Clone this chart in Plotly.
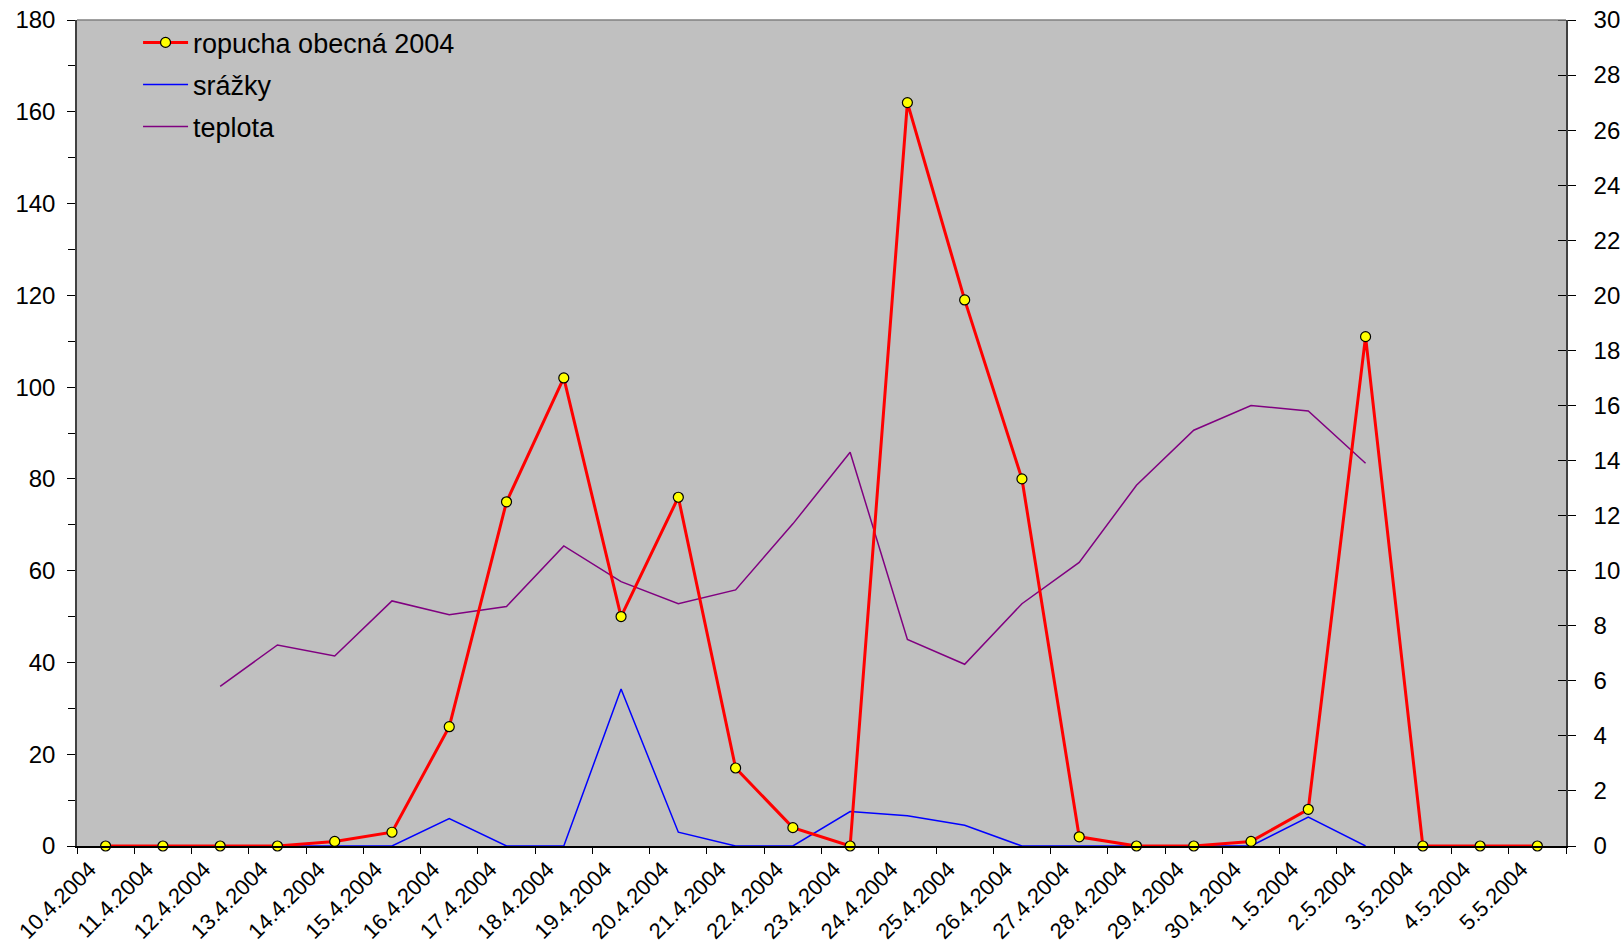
import plotly.graph_objects as go

dates = ["10.4.2004", "11.4.2004", "12.4.2004", "13.4.2004", "14.4.2004", "15.4.2004",
         "16.4.2004", "17.4.2004", "18.4.2004", "19.4.2004", "20.4.2004", "21.4.2004",
         "22.4.2004", "23.4.2004", "24.4.2004", "25.4.2004", "26.4.2004", "27.4.2004",
         "28.4.2004", "29.4.2004", "30.4.2004", "1.5.2004", "2.5.2004", "3.5.2004",
         "4.5.2004", "5.5.2004"]

ropucha = [0, 0, 0, 0, 1, 3, 26, 75, 102, 50, 76, 17, 4, 0, 162, 119, 80, 2, 0, 0, 1, 8, 111, 0, 0, 0]

srazky = [None, None, 0, 0, 0, 0, 1.0, 0, 0, 5.7, 0.5, 0, 0, 1.25, 1.1, 0.75, 0, 0, 0, 0, 0, 1.05, 0,
          None, None, None]

teplota = [None, None, 5.8, 7.3, 6.9, 8.9, 8.4, 8.7, 10.9, 9.6, 8.8, 9.3, 11.7, 14.3, 7.5, 6.6, 8.8,
           10.3, 13.1, 15.1, 16.0, 15.8, 13.9, None, None, None]

FONT = "Liberation Sans, Arial, sans-serif"

idx = list(range(len(dates)))
label_pos = [i - 0.28 for i in idx]

fig = go.Figure()
fig.add_trace(go.Scatter(
    x=idx, y=ropucha, name="ropucha obecná 2004", mode="lines+markers",
    line=dict(color="#FF0000", width=3),
    marker=dict(color="#FFFF00", size=10, line=dict(color="#000000", width=1.2)),
    yaxis="y2", cliponaxis=False, legendgroup="a"))
fig.add_trace(go.Scatter(
    x=idx, y=srazky, name="srážky", mode="lines",
    line=dict(color="#0000FF", width=1.5), yaxis="y", legendgroup="b"))
fig.add_trace(go.Scatter(
    x=idx, y=teplota, name="teplota", mode="lines",
    line=dict(color="#800080", width=1.5), yaxis="y", legendgroup="c"))

fig.update_layout(
    width=1623, height=948,
    margin=dict(l=77, r=57, t=20, b=102, autoexpand=False),
    paper_bgcolor="#FFFFFF", plot_bgcolor="#C0C0C0",
    font=dict(family=FONT, color="#000000"),
    showlegend=True,
    legend=dict(x=0.041, y=1.002, xanchor="left", yanchor="top",
                bgcolor="rgba(0,0,0,0)", font=dict(size=27, family=FONT),
                itemwidth=45, tracegroupgap=4, traceorder="grouped"),
    xaxis=dict(type="linear", range=[-0.5, len(dates) - 0.5],
               tickmode="array", tickvals=label_pos, ticktext=dates,
               ticks="", ticklen=0,
               minor=dict(ticks="outside", tick0=0.5, dtick=1, ticklen=6, tickcolor="#000000"),
               showline=True, linecolor="#000000", linewidth=1.5,
               tickangle=-45, tickfont=dict(size=22, family=FONT),
               showgrid=False, zeroline=False, automargin=False),
    yaxis=dict(side="right", range=[0, 30], dtick=2, tick0=0,
               ticks="outside", ticklen=8, tickcolor="#000000",
               minor=dict(ticks="inside", dtick=2, tick0=0, ticklen=8, tickcolor="#000000"),
               showline=True, linecolor="#404040", linewidth=1.5,
               tickfont=dict(size=24, family=FONT), showgrid=False, zeroline=False,
               ticklabelstandoff=13, automargin=False),
    yaxis2=dict(side="left", overlaying="y", range=[0, 180], dtick=20, tick0=0,
                ticks="outside", ticklen=8, tickcolor="#000000",
                minor=dict(ticks="outside", dtick=10, ticklen=7, tickcolor="#000000"),
                showline=True, linecolor="#404040", linewidth=1.5,
                tickfont=dict(size=24, family=FONT), showgrid=False, zeroline=False,
                ticklabelstandoff=7, automargin=False),
    shapes=[dict(type="line", xref="paper", yref="paper", x0=0, x1=1, y0=1, y1=1,
                 line=dict(color="#808080", width=1.5))],
)

fig.write_html("out.html", config={"displayModeBar": False},
               post_script="document.body.style.margin='0px';")
